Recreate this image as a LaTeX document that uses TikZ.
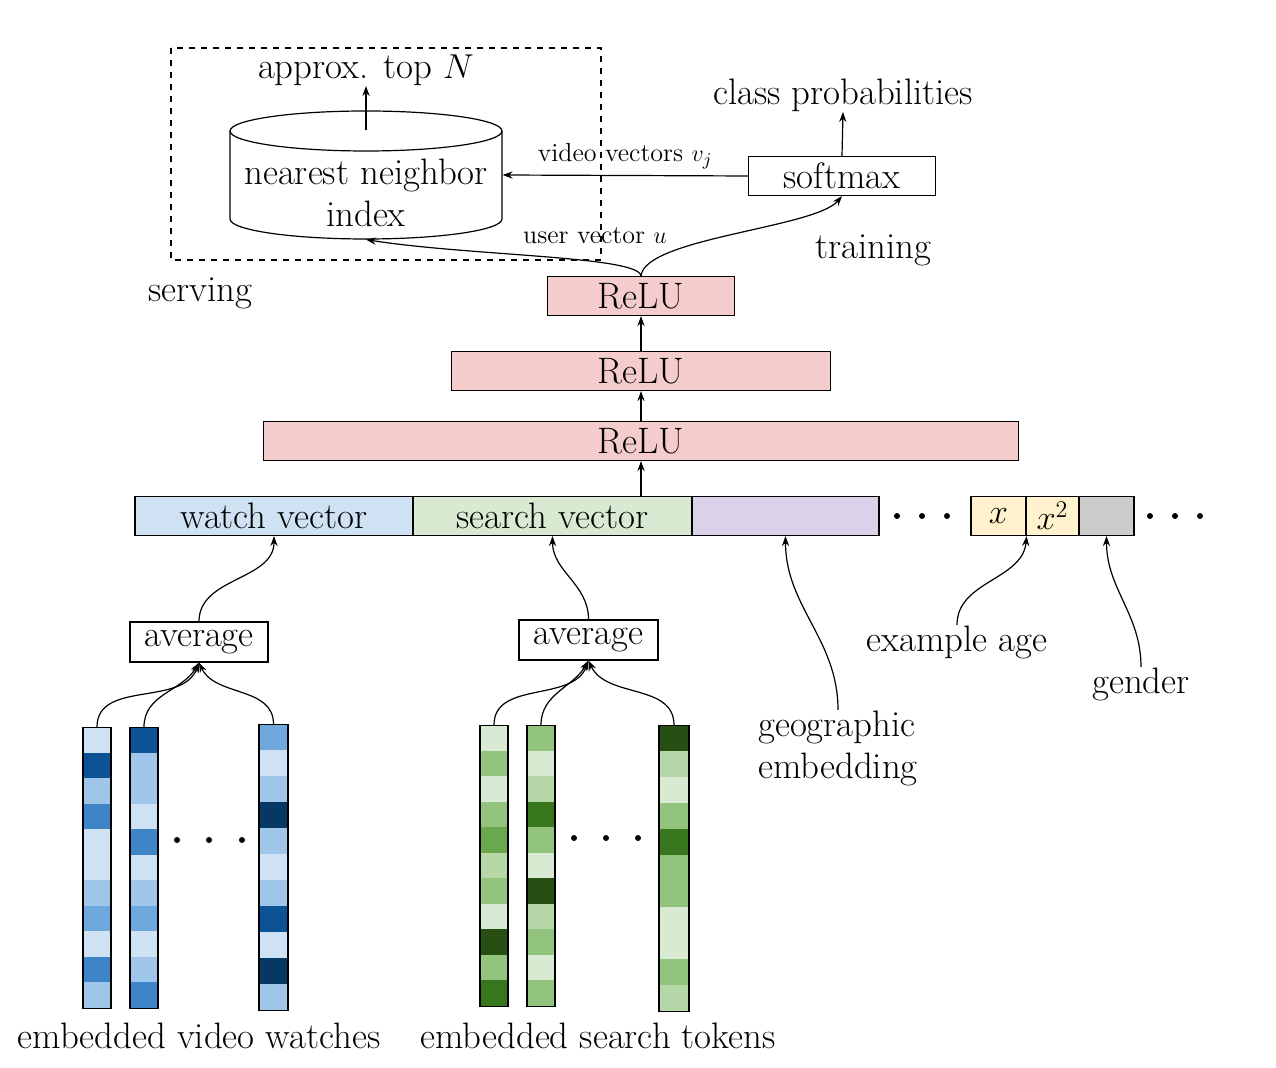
\documentclass[tikz,border=0pt]{standalone}
\usetikzlibrary{arrows.meta}
\definecolor{b1}{HTML}{CFE2F3}
\definecolor{b2}{HTML}{9FC5E8}
\definecolor{b3}{HTML}{6FA8DC}
\definecolor{b4}{HTML}{3D85C6}
\definecolor{b5}{HTML}{0B5394}
\definecolor{b6}{HTML}{073763}
\definecolor{g1}{HTML}{D9EAD3}
\definecolor{g2}{HTML}{B6D7A8}
\definecolor{g3}{HTML}{93C47D}
\definecolor{g4}{HTML}{6AA84F}
\definecolor{g5}{HTML}{38761D}
\definecolor{g6}{HTML}{274E13}
\definecolor{relufill}{HTML}{F4CCCC}
\definecolor{geofill}{HTML}{D9D2E9}
\definecolor{agefill}{HTML}{FFF2CC}
\definecolor{gendfill}{HTML}{CCCCCC}

\begin{document}
\begin{tikzpicture}[x=0.5pt,y=0.5pt,line width=0.6pt,>={Stealth[length=5pt,width=3.6pt]}]
\tikzstyle{every node}+=[inner sep=0pt]
\tikzstyle{lbl}=[font=\fontsize{18.4}{21}\selectfont]
\tikzstyle{small}=[font=\fontsize{13}{15}\selectfont]
\tikzstyle{layer}=[draw, lbl, minimum height=19.5pt]
\tikzstyle{col}=[draw, anchor=north, minimum width=14pt, minimum height=140.5pt]
\useasboundingbox (0,0) rectangle (1276,-1068);

% serving side
\draw [dashed] (171,-48) rectangle (601,-260);
\node [lbl] (topn) at (366,-70) {approx. top $N$};
\node [minimum width=136pt, minimum height=64pt] (cyl) at (366,-175) {};
\draw (230,-131) -- (230,-219) arc [start angle=180, end angle=360, x radius=136, y radius=20] -- (502,-131);
\draw (366,-131) ellipse [x radius=136, y radius=20];
\node [lbl, align=center] (cyltxt) at (366,-193) {nearest neighbor\\index};
\draw [->] ([yshift=-10pt]cyl.north) -- (topn.south);
\node [lbl] (serving) at (200,-293) {serving};

% training side
\node [layer, minimum width=93.5pt] (softmax) at (842,-176) {softmax};
\node [lbl] (classp) at (843,-95) {class probabilities};
\draw [->] (softmax.north) -- (classp.south);
\draw [->] (softmax.west) -- (cyl.east) node [small, midway, above=3pt] {video vectors $v_j$};
\node [lbl] (training) at (873,-250) {training};

% relu stack
\node [layer, fill=relufill, minimum width=93.5pt] (relu1) at (641,-296) {ReLU};
\node [layer, fill=relufill, minimum width=189.5pt] (relu2) at (641,-371) {ReLU};
\node [layer, fill=relufill, minimum width=377.5pt] (relu3) at (641,-441) {ReLU};
\draw [->] (relu2.north) -- (relu1.south);
\draw [->] (relu3.north) -- (relu2.south);
\draw [->] (relu1.north) .. controls (639,-256) and (470,-256) .. (cyl.south);
\draw [->] (relu1.north) .. controls (645,-238) and (815,-228) .. (softmax.south);
\node [small] (userv) at (595,-236) {user vector $u$};

% input features
\node [layer, fill=b1, minimum width=139pt] (watch) at (274,-516) {watch vector};
\node [layer, fill=g1, minimum width=139.5pt] (search) at (552.5,-516) {search vector};
\node [layer, fill=geofill, minimum width=93.5pt] (geo) at (785.5,-516) {};
\node [layer, fill=agefill, minimum width=27.5pt] (agex) at (998.5,-516) {$x$};
\node [layer, fill=agefill, minimum width=26.5pt] (agexx) at (1052.5,-516) {$x^2$};
\node [layer, fill=gendfill, minimum width=27.5pt] (gend) at (1106.5,-516) {};
\draw [->] (relu3.south |- search.north) -- (relu3.south);
\foreach \x in {897,922,947,1150,1175,1200}
  \fill (\x,-516) circle (3);

\node [layer, minimum width=69pt, minimum height=20pt] (avg1) at (199,-642) {average};
\node [layer, minimum width=69.5pt, minimum height=20pt] (avg2) at (588.5,-640) {average};
\draw [->] (avg1.north) to [out=90,in=-90] (watch.south);
\draw [->] (avg2.north) to [out=90,in=-90] (search.south);

\node [lbl, align=left] (geotxt) at (838,-748) {geographic\\embedding};
\node [lbl] (agetxt) at (957,-642) {example age};
\node [lbl] (gendtxt) at (1141,-684) {gender};
\draw [->] (geotxt.north) to [out=90,in=-90] (geo.south);
\draw [->] (agetxt.north) to [out=90,in=-95] (agex.south east);
\draw [->] (gendtxt.north) to [out=90,in=-90] (gend.south);

% embedded video watches
\foreach \c [count=\i from 0] in {b1,b5,b2,b4,b1,b1,b2,b3,b1,b4,b2}
  \fill [\c] (83,-727-25.55*\i) rectangle ++(28,-25.55);
\foreach \c [count=\i from 0] in {b5,b2,b2,b1,b4,b1,b2,b3,b1,b2,b4}
  \fill [\c] (130,-727-25.55*\i) rectangle ++(28,-25.55);
\foreach \c [count=\i from 0] in {b3,b1,b2,b6,b2,b1,b2,b5,b1,b6,b2}
  \fill [\c] (259,-724-26*\i) rectangle ++(29,-26);
\node [col] (va) at (97,-727) {};
\node [col] (vb) at (144,-727) {};
\node [col, minimum width=14.5pt, minimum height=143pt] (vc) at (273.5,-724) {};
\foreach \x in {177,209,242}
  \fill (\x,-840) circle (3);
\draw [->] (va.north) to [out=90,in=-110] (avg1.south);
\draw [->] (vb.north) to [out=90,in=-120] (avg1.south);
\draw [->] (vc.north) to [out=90,in=-65] (avg1.south);
\node [lbl] (vidlbl) at (199,-1036) {embedded video watches};

% embedded search tokens
\foreach \c [count=\i from 0] in {g1,g3,g1,g3,g4,g2,g3,g1,g6,g3,g5}
  \fill [\c] (480,-725-25.55*\i) rectangle ++(28,-25.55);
\foreach \c [count=\i from 0] in {g3,g1,g2,g5,g3,g1,g6,g2,g3,g1,g3}
  \fill [\c] (527,-725-25.55*\i) rectangle ++(28,-25.55);
\foreach \c [count=\i from 0] in {g6,g2,g1,g3,g5,g3,g3,g1,g1,g3,g2}
  \fill [\c] (659,-725-26*\i) rectangle ++(30,-26);
\node [col] (sa) at (494,-725) {};
\node [col] (sb) at (541,-725) {};
\node [col, minimum width=15pt, minimum height=143pt] (sc) at (674,-725) {};
\foreach \x in {574,606,638}
  \fill (\x,-838) circle (3);
\draw [->] (sa.north) to [out=90,in=-110] (avg2.south);
\draw [->] (sb.north) to [out=90,in=-120] (avg2.south);
\draw [->] (sc.north) to [out=90,in=-65] (avg2.south);
\node [lbl] (srchlbl) at (598,-1036) {embedded search tokens};
\end{tikzpicture}
\end{document}
